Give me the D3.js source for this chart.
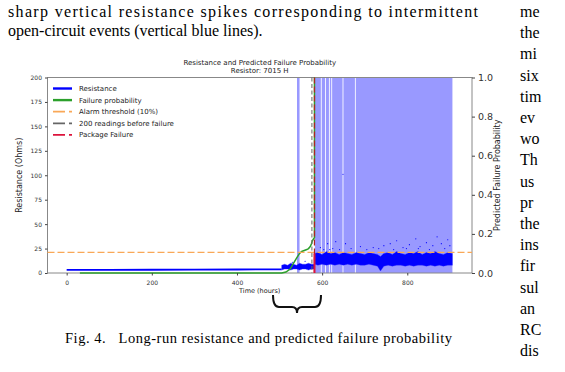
<!DOCTYPE html>
<html>
<head>
<meta charset="utf-8">
<script src="https://cdn.jsdelivr.net/npm/d3@7"></script>
<style>
  body { margin: 0; background: #fff; }
  svg { display: block; }
</style>
</head>
<body>
<svg id="page" width="565" height="372"></svg>
<script>

//*************************************************//
// Data
//*************************************************//

// Steady resistance before degradation (hours, ohms)
var steadyHours = [0, 100, 200, 300, 400, 505];
var steadyOhms  = [3.2, 3.2, 3.3, 3.4, 3.6, 3.7];

// Noisy band before package failure (hours, low/high ohms)
var preHours = [505, 512, 519, 526, 533, 540, 547, 554, 561, 568, 575, 582];
var preLow   = [3, 4, 4, 3, 4, 4, 3, 4, 4, 3, 4, 4];
var preHigh  = [8, 9, 8, 10, 9, 8, 10, 9, 9, 10, 9, 9];

// Noisy band after package failure
var postHours = [583, 590, 600, 610, 620, 630, 640, 650, 660, 670, 680, 690, 700, 710, 720, 730, 737,
                 745, 755, 765, 775, 785, 795, 805, 815, 825, 835, 845, 855, 865, 875, 885, 895, 906];
var postLow   = [9, 8, 9, 8, 9, 8, 9, 8, 9, 8, 9, 8, 8, 9, 8, 7, 2,
                 7, 8, 7, 8, 8, 7, 8, 7, 8, 8, 7, 8, 7, 8, 7, 8, 8];
var postHigh  = [20, 21, 19, 22, 20, 21, 19, 21, 20, 19, 21, 20, 19, 21, 20, 19, 17,
                 20, 21, 19, 22, 20, 19, 21, 20, 22, 19, 21, 20, 22, 20, 19, 21, 20];

// Isolated resistance outliers
var outHours = [530, 560, 596, 604, 613, 618, 625, 632, 641, 649, 655, 668, 690, 705, 720, 733, 745,
                760, 768, 775, 790, 798, 805, 820, 826, 830, 845, 852, 860, 870, 880, 888, 895, 900];
var outOhms  = [11, 12, 26, 24, 30, 24, 25, 32, 24, 101, 30, 25, 27, 24, 26, 25, 28,
                30, 24, 33, 26, 25, 29, 35, 25, 27, 31, 24, 28, 37, 30, 25, 34, 28];

// Predicted failure probability
var probHours = [31, 200, 400, 505, 515, 525, 533, 541, 547, 552, 558, 564, 568, 572, 575, 577, 580, 582, 582];
var probVals  = [0, 0, 0, 0, 0.005, 0.02, 0.05, 0.08, 0.1, 0.11, 0.115, 0.12, 0.125, 0.135, 0.15, 0.165, 0.175, 0.18, 1.0];

// Open-circuit events (start, end hours)
var spanStart = [541, 583, 599, 609, 618, 623.5, 650, 679];
var spanEnd   = [547, 597, 607, 616, 621.5, 648, 677, 906];

var alarmLevel = 0.105;
var warnHour = 576;
var failHour = 582;

var xTicks = [0, 200, 400, 600, 800];
var yLeftTicks = [0, 25, 50, 75, 100, 125, 150, 175, 200];
var yRightTicks = [0, 0.2, 0.4, 0.6, 0.8, 1.0];

var legendLabels = ["Resistance", "Failure probability", "Alarm threshold (10%)", "200 readings before failure", "Package Failure"];

var bodyLeft = ["sharp vertical resistance spikes corresponding to intermittent",
                "open-circuit events (vertical blue lines)."];
var bodyRight = ["me", "the", "mi", "six", "tim", "ev", "wo", "Th", "us",
                 "pr", "the", "ins", "fir", "sul", "an", "RC", "dis"];
var caption = "Fig. 4.   Long-run resistance and predicted failure probability";


//*************************************************//
// Page text
//*************************************************//
var svg = d3.select('#page');
var serif = "'Liberation Serif', 'Times New Roman', serif";
var sans = "'DejaVu Sans', sans-serif";

svg.append('text')
    .attr('x', 8).attr('y', 17)
    .attr('font-family', serif).attr('font-size', 16)
    .attr('textLength', 470).attr('lengthAdjust', 'spacing')
    .text(bodyLeft[0]);

svg.append('text')
    .attr('x', 8).attr('y', 36)
    .attr('font-family', serif).attr('font-size', 16)
    .text(bodyLeft[1]);

svg.selectAll('.rcol')
    .data(bodyRight)
    .enter().append('text')
    .attr('class', 'rcol')
    .attr('x', 520)
    .attr('y', function(d, i) { return 17 + i * 21.2; })
    .attr('font-family', serif).attr('font-size', 16)
    .text(function(d) { return d; });

svg.append('text')
    .attr('x', 65).attr('y', 343)
    .attr('font-family', serif).attr('font-size', 14.5)
    .attr('textLength', 387).attr('lengthAdjust', 'spacing')
    .attr('xml:space', 'preserve')
    .text(caption);


//*************************************************//
// Chart
//*************************************************//
var plot = { left: 47.5, right: 472, top: 77.5, bottom: 273 };

var x = d3.scaleLinear().domain([-45, 952]).range([plot.left, plot.right]);
var yL = d3.scaleLinear().domain([0, 200]).range([plot.bottom, plot.top]);
var yR = d3.scaleLinear().domain([0, 1]).range([plot.bottom, plot.top]);

var chart = svg.append('g');

// Open-circuit spans
chart.selectAll('.span')
    .data(spanStart)
    .enter().append('rect')
    .attr('x', function(d) { return x(d); })
    .attr('width', function(d, i) { return x(spanEnd[i]) - x(d); })
    .attr('y', plot.top)
    .attr('height', plot.bottom - plot.top)
    .attr('fill', '#9999ff');

// Frame (spines sit under the thick data lines here)
chart.append('rect')
    .attr('x', plot.left).attr('y', plot.top)
    .attr('width', plot.right - plot.left).attr('height', plot.bottom - plot.top)
    .attr('fill', 'none').attr('stroke', '#888').attr('stroke-width', 1);

// Resistance: steady line
var steadyLine = d3.line()
    .x(function(d, i) { return x(steadyHours[i]); })
    .y(function(d) { return yL(d); });

chart.append('path')
    .datum(steadyOhms)
    .attr('d', steadyLine)
    .attr('fill', 'none')
    .attr('stroke', '#0000ff')
    .attr('stroke-width', 1.8);

// Resistance: noisy bands
function band(hours, low, high) {
    var area = d3.area()
        .x(function(d, i) { return x(hours[i]); })
        .y0(function(d, i) { return yL(low[i]); })
        .y1(function(d) { return yL(d); });
    chart.append('path')
        .datum(high)
        .attr('d', area)
        .attr('fill', '#0000ff')
        .attr('stroke', '#3333ff')
        .attr('stroke-width', 0.6)
        .attr('stroke-opacity', 0.6);
}
band(preHours, preLow, preHigh);
band(postHours, postLow, postHigh);

chart.selectAll('.outlier')
    .data(outOhms)
    .enter().append('circle')
    .attr('cx', function(d, i) { return x(outHours[i]); })
    .attr('cy', function(d) { return yL(d); })
    .attr('r', 0.6)
    .attr('fill', '#0000ff');

// Failure probability
var probLine = d3.line()
    .x(function(d, i) { return x(probHours[i]); })
    .y(function(d) { return yR(d); });

chart.append('path')
    .datum(probVals)
    .attr('d', probLine)
    .attr('fill', 'none')
    .attr('stroke', '#2ca02c')
    .attr('stroke-width', 1.5);

// Alarm threshold
chart.append('line')
    .attr('x1', plot.left).attr('x2', plot.right)
    .attr('y1', yR(alarmLevel)).attr('y2', yR(alarmLevel))
    .attr('stroke', '#f9a857').attr('stroke-width', 1.2)
    .attr('stroke-dasharray', '7,3');

// 200 readings before failure
chart.append('line')
    .attr('x1', x(warnHour)).attr('x2', x(warnHour))
    .attr('y1', plot.top).attr('y2', plot.bottom)
    .attr('stroke', '#666').attr('stroke-width', 1)
    .attr('stroke-dasharray', '4,2.5');

// Package failure
chart.append('line')
    .attr('x1', x(failHour)).attr('x2', x(failHour))
    .attr('y1', plot.top).attr('y2', plot.bottom)
    .attr('stroke', '#b22222').attr('stroke-width', 1.2)
    .attr('stroke-dasharray', '6,3');

chart.append('line')
    .attr('x1', x(failHour)).attr('x2', x(failHour))
    .attr('y1', yL(0)).attr('y2', yL(20))
    .attr('stroke', '#dc143c').attr('stroke-width', 2);

// Axes
var xAxis = chart.append('g')
    .attr('transform', 'translate(0,' + plot.bottom + ')')
    .call(d3.axisBottom(x).tickValues(xTicks).tickSize(2.5).tickFormat(d3.format('d')));

var yAxisL = chart.append('g')
    .attr('transform', 'translate(' + plot.left + ',0)')
    .call(d3.axisLeft(yL).tickValues(yLeftTicks).tickSize(2.5).tickFormat(d3.format('d')));

var yAxisR = chart.append('g')
    .attr('transform', 'translate(' + plot.right + ',0)')
    .call(d3.axisRight(yR).tickValues(yRightTicks).tickSize(3).tickFormat(d3.format('.1f')));

[xAxis, yAxisL].forEach(function(a) {
    a.select('.domain').remove();
    a.selectAll('line').attr('stroke', '#444');
    a.selectAll('text').attr('font-family', sans).attr('font-size', 6).attr('fill', '#333');
});
yAxisR.select('.domain').remove();
yAxisR.selectAll('line').attr('stroke', '#444');
yAxisR.selectAll('text').attr('font-family', sans).attr('font-size', 9.5).attr('fill', '#333');
xAxis.selectAll('text').attr('dy', '1.1em');

// Axis labels
chart.append('text')
    .attr('x', (plot.left + plot.right) / 2).attr('y', 293)
    .attr('text-anchor', 'middle')
    .attr('font-family', sans).attr('font-size', 6.5).attr('fill', '#222')
    .text('Time (hours)');

chart.append('text')
    .attr('transform', 'translate(22,' + (plot.top + plot.bottom) / 2 + ') rotate(-90)')
    .attr('text-anchor', 'middle')
    .attr('font-family', sans).attr('font-size', 8).attr('fill', '#222')
    .text('Resistance (Ohms)');

chart.append('text')
    .attr('transform', 'translate(500,' + (plot.top + plot.bottom) / 2 + ') rotate(-90)')
    .attr('text-anchor', 'middle')
    .attr('font-family', sans).attr('font-size', 8).attr('fill', '#222')
    .text('Predicted Failure Probability');

// Title
chart.append('text')
    .attr('x', (plot.left + plot.right) / 2).attr('y', 64.5)
    .attr('text-anchor', 'middle')
    .attr('font-family', sans).attr('font-size', 7).attr('fill', '#222')
    .text('Resistance and Predicted Failure Probability');

chart.append('text')
    .attr('x', (plot.left + plot.right) / 2).attr('y', 73)
    .attr('text-anchor', 'middle')
    .attr('font-family', sans).attr('font-size', 7).attr('fill', '#222')
    .text('Resistor: 7015 H');

// Legend
var legendStyles = [
    { color: '#0000ff', width: 2.4, dash: null },
    { color: '#2ca02c', width: 2.4, dash: null },
    { color: '#f9a857', width: 1.8, dash: '12,4' },
    { color: '#666', width: 1.8, dash: '12,4' },
    { color: '#dc143c', width: 1.8, dash: '12,4' }
];

var legend = chart.selectAll('.legend')
    .data(legendLabels)
    .enter().append('g')
    .attr('transform', function(d, i) { return 'translate(53,' + (88.5 + i * 11.6) + ')'; });

legend.append('line')
    .attr('x1', 0).attr('x2', 19)
    .attr('stroke', function(d, i) { return legendStyles[i].color; })
    .attr('stroke-width', function(d, i) { return legendStyles[i].width; })
    .attr('stroke-dasharray', function(d, i) { return legendStyles[i].dash; });

legend.append('text')
    .attr('x', 26).attr('dy', '0.35em')
    .attr('font-family', sans).attr('font-size', 7).attr('fill', '#222')
    .text(function(d) { return d; });

// Brace under the x axis
var bx0 = 273, bx1 = 321, bmid = 297, btop = 295, bbar = 307, btip = 313;
svg.append('path')
    .attr('d', 'M' + bx0 + ',' + btop + ' Q' + bx0 + ',' + bbar + ' ' + (bx0 + 6) + ',' + bbar +
               ' L' + (bmid - 5) + ',' + bbar + ' Q' + bmid + ',' + bbar + ' ' + bmid + ',' + btip +
               ' Q' + bmid + ',' + bbar + ' ' + (bmid + 5) + ',' + bbar +
               ' L' + (bx1 - 6) + ',' + bbar + ' Q' + bx1 + ',' + bbar + ' ' + bx1 + ',' + btop)
    .attr('fill', 'none')
    .attr('stroke', '#111')
    .attr('stroke-width', 2);

</script>
</body>
</html>
